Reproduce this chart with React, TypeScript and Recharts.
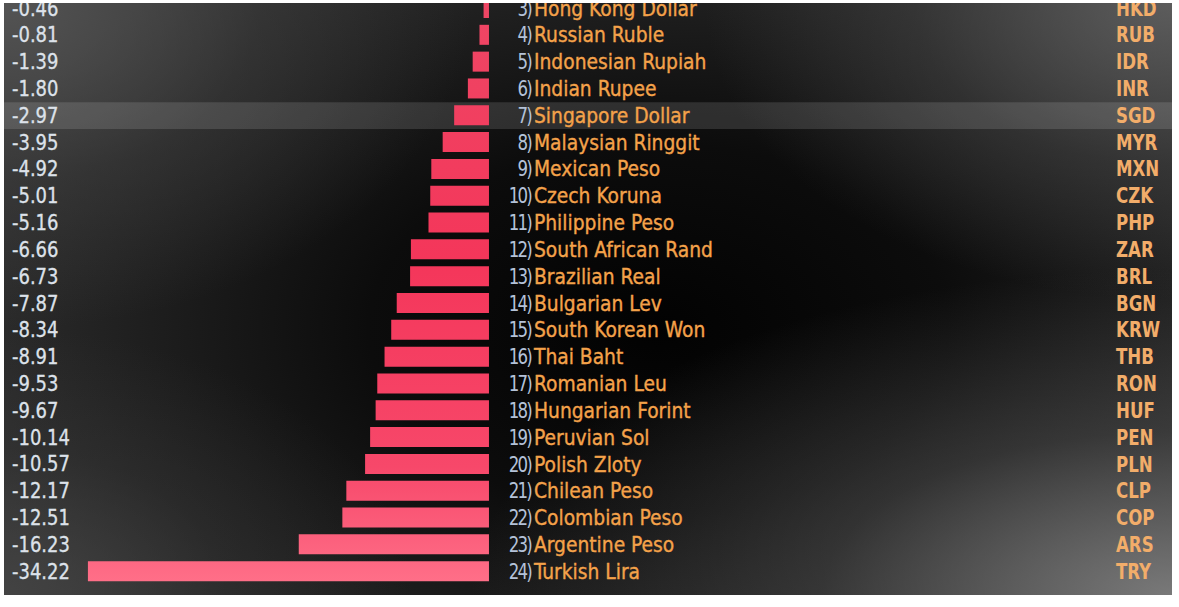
import React from "react";
import { BarChart, Bar, XAxis, YAxis, ReferenceArea, LabelList } from "recharts";

const currencies = [
  "Hong Kong Dollar",
  "Russian Ruble",
  "Indonesian Rupiah",
  "Indian Rupee",
  "Singapore Dollar",
  "Malaysian Ringgit",
  "Mexican Peso",
  "Czech Koruna",
  "Philippine Peso",
  "South African Rand",
  "Brazilian Real",
  "Bulgarian Lev",
  "South Korean Won",
  "Thai Baht",
  "Romanian Leu",
  "Hungarian Forint",
  "Peruvian Sol",
  "Polish Zloty",
  "Chilean Peso",
  "Colombian Peso",
  "Argentine Peso",
  "Turkish Lira",
];
const codes = [
  "HKD", "RUB", "IDR", "INR", "SGD", "MYR", "MXN", "CZK", "PHP", "ZAR", "BRL",
  "BGN", "KRW", "THB", "RON", "HUF", "PEN", "PLN", "CLP", "COP", "ARS", "TRY",
];
const ranks = [
  "3)", "4)", "5)", "6)", "7)", "8)", "9)", "10)", "11)", "12)", "13)", "14)",
  "15)", "16)", "17)", "18)", "19)", "20)", "21)", "22)", "23)", "24)",
];
const changes = [
  -0.46, -0.81, -1.39, -1.8, -2.97, -3.95, -4.92, -5.01, -5.16, -6.66, -6.73,
  -7.87, -8.34, -8.91, -9.53, -9.67, -10.14, -10.57, -12.17, -12.51, -16.23,
  -34.22,
];
const highlighted = "Singapore Dollar";
const xDomain = [-41.38, 58.28];

const data = currencies.map((name, i) => ({
  name,
  code: codes[i],
  rank: ranks[i],
  change: changes[i],
}));

const FONT = "'DejaVu Sans Condensed', 'DejaVu Sans', sans-serif";

const renderRow = (props: any) => {
  const { y, height, index } = props;
  const row = data[index];
  if (!row) return null;
  const base = y + height / 2 + 7.6;
  return (
    <g key={`row-${index}`} style={{ fontFamily: FONT }}>
      <text
        x={8}
        y={base}
        fontSize={21}
        fill="#dde2ea"
        stroke="#dde2ea"
        strokeWidth={0.3}
        transform={`translate(8 0) scale(0.95 1) translate(-8 0)`}
      >
        {row.change.toFixed(2)}
      </text>
      <text
        x={527}
        y={base}
        fontSize={21}
        fill="#b4c2d8"
        textAnchor="end"
        letterSpacing={-2}
        transform={`translate(527 0) scale(0.88 1) translate(-527 0)`}
      >
        {row.rank}
      </text>
      <text
        x={530}
        y={base}
        fontSize={21}
        fill="#f4a24a"
        stroke="#f4a24a"
        strokeWidth={0.35}
        transform={`translate(530 0) scale(0.99 1) translate(-530 0)`}
      >
        {row.name}
      </text>
      <text
        x={1112}
        y={base}
        fontSize={21}
        fill="#f2ad6a"
        fontWeight={600}
        transform={`translate(1112 0) scale(0.88 1) translate(-1112 0)`}
      >
        {row.code}
      </text>
    </g>
  );
};

export default function App() {
  return (
    <div
      style={{
        position: "absolute",
        left: 0,
        top: 0,
        width: 1179,
        height: 607,
        background: "#ffffff",
        overflow: "hidden",
      }}
    >
      <div
        style={{
          position: "absolute",
          left: 4,
          top: 3,
          width: 1168,
          height: 592,
          overflow: "hidden",
          background:
            "radial-gradient(ellipse 40% 55% at 0% 0%, rgba(90,90,90,0.85) 0%, rgba(70,70,70,0.4) 55%, rgba(0,0,0,0) 100%)," +
            "radial-gradient(ellipse 40% 50% at 100% 0%, rgba(100,100,100,0.85) 0%, rgba(80,80,80,0.4) 55%, rgba(0,0,0,0) 100%)," +
            "radial-gradient(ellipse 60% 55% at 100% 100%, rgba(125,125,125,0.95) 0%, rgba(90,90,90,0.45) 50%, rgba(0,0,0,0) 100%)," +
            "radial-gradient(ellipse 35% 45% at 0% 100%, rgba(75,75,75,0.7) 0%, rgba(60,60,60,0.3) 55%, rgba(0,0,0,0) 100%)," +
            "radial-gradient(ellipse 62% 78% at 56% 55%, #020202 0%, #0c0c0c 40%, #242424 80%, #303030 100%)",
        }}
      >
        <div style={{ position: "absolute", left: 0, top: -7.7 }}>
          <BarChart
            width={1168}
            height={590}
            data={data}
            layout="vertical"
            margin={{ top: 0, right: 0, bottom: 0, left: 0 }}
          >
            <defs>
              <linearGradient
                id="barGrad"
                gradientUnits="userSpaceOnUse"
                x1="0"
                y1="0"
                x2="0"
                y2="590"
              >
                <stop offset="0%" stopColor="#ee4765" />
                <stop offset="45%" stopColor="#f4365a" />
                <stop offset="80%" stopColor="#f7486a" />
                <stop offset="100%" stopColor="#ff7089" />
              </linearGradient>
            </defs>
            <XAxis type="number" hide domain={xDomain} />
            <YAxis type="category" dataKey="name" hide />
            <ReferenceArea
              y1={highlighted}
              y2={highlighted}
              fill="#ffffff"
              fillOpacity={0.13}
              stroke="none"
            />
            <Bar
              dataKey="change"
              fill="url(#barGrad)"
              barSize={20}
              isAnimationActive={false}
            >
              <LabelList dataKey="name" content={renderRow} />
            </Bar>
          </BarChart>
        </div>
      </div>
    </div>
  );
}
